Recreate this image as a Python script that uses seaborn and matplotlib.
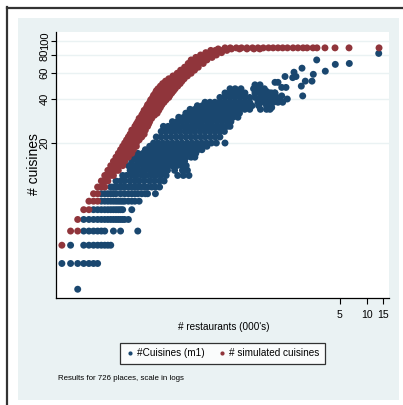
import matplotlib
matplotlib.use("Agg")
import matplotlib.pyplot as plt
from matplotlib import font_manager
from matplotlib.lines import Line2D
from matplotlib.patches import Rectangle
from matplotlib.ticker import NullLocator, FixedLocator
import seaborn as sns
import pandas as pd

# ---------------- data (restaurants as counts, cuisines as counts) ----------------
series_labels = ["#Cuisines (m1)", "# simulated cuisines"]
series_colors = ["#1A476F", "#90353B"]

# observed cuisines: {cuisines: [restaurants, ...]}
blue_rows = {
    2: [6],
    3: [4, 5, 6, 7, 8, 9, 10],
    4: [5, 7, 8, 9, 10, 11, 12, 13, 14],
    5: [7, 8, 9, 10, 11, 12, 15, 18, 28],
    6: [7, 8, 9, 10, 11, 12, 13, 14, 15, 16, 17, 18, 19, 20, 22],
    7: [9, 10, 11, 12, 13, 14, 15, 16, 17, 18, 19, 24],
    8: [11, 12, 13, 14, 15, 16, 17, 18, 19, 20, 22, 24, 26, 29],
    9: [11, 12, 13, 14, 15, 16, 18, 20, 22, 24, 26, 28, 31, 34, 36, 44],
    10: [14, 15, 16, 17, 18, 19, 20, 22, 24, 26, 28, 30, 33, 36, 40, 44, 49],
    11: [16, 18, 20, 23, 26, 29, 33, 38, 43, 49, 55],
    12: [19, 21, 24, 27, 31, 35, 40, 45, 51, 58, 78, 90, 104],
    13: [23, 26, 29, 33, 38, 43, 48, 54, 60, 72, 88, 100],
    14: [22, 25, 28, 32, 36, 41, 46, 52, 59, 67, 76, 86, 97],
    15: [24, 28, 31, 35, 40, 45, 51, 57, 65, 73, 83, 93],
    16: [25, 28, 32, 36, 41, 46, 52, 59, 67, 76, 86, 97, 110, 121],
    17: [28, 32, 36, 41, 46, 52, 58, 66, 75, 85, 96, 109, 124],
    18: [34, 38, 43, 49, 55, 62, 70, 80, 90, 102, 116, 131, 145],
    19: [38, 44, 49, 56, 63, 71, 81, 91, 103, 117, 133, 150, 165],
    20: [42, 47, 53, 60, 68, 77, 87, 99, 112, 127, 144, 163, 185, 210, 262],
    22: [45, 51, 58, 66, 75, 85, 96, 109, 123, 140, 158, 180, 204, 230],
    24: [51, 57, 65, 73, 83, 95, 107, 121, 138, 157, 178, 202, 229, 258],
    26: [54, 61, 69, 78, 89, 101, 114, 130, 147, 167, 190, 215, 244, 277, 298],
    28: [68, 77, 87, 99, 113, 128, 145, 165, 187, 213, 242, 275, 305],
    30: [80, 91, 103, 117, 133, 151, 171, 194, 220, 250, 284, 322, 365],
    32: [96, 109, 124, 140, 160, 181, 205, 233, 265, 301, 342, 380],
    34: [107, 121, 138, 157, 178, 202, 230, 261, 297, 337, 383, 435, 494, 650, 760],
    36: [129, 147, 167, 190, 215, 245, 278, 316, 359, 408, 464, 525, 620, 760],
    38: [157, 178, 202, 230, 261, 297, 337, 383, 435, 494, 610, 700, 800, 910, 1020],
    41: [230, 261, 297, 337, 383, 435, 494, 650, 740, 840, 950, 1070],
    44: [262, 297, 337, 383, 437, 565, 640, 730, 830, 940],
    47: [298, 340, 395, 545, 620, 720],
    50: [565, 643],
}
blue_top_restaurants = [13490, 6346, 4432, 2751, 3430, 1887, 2522, 2054, 2438, 1537,
                        1618, 1487, 1221, 1020, 1854, 1252, 1122, 944, 868, 1122,
                        1921, 1294, 1150, 868, 868, 831, 763, 565, 616, 643,
                        565, 354, 368, 944]
blue_top_cuisines = [82, 70, 69, 74, 62, 65, 59, 53, 53, 61,
                     57, 56, 57, 52, 49, 48, 48, 44, 44, 42,
                     42, 40, 38, 39, 35, 34, 45, 48, 46, 44,
                     41, 46, 44, 52]

# simulated cuisines: {cuisines: [restaurants, ...]}
red_rows = {
    4: [4], 5: [5, 6], 6: [6], 7: [7, 8], 8: [8, 9, 10], 9: [9, 10],
    10: [10, 11, 12], 11: [11, 12, 13], 12: [12, 13, 14, 15],
    13: [13, 15, 16, 17], 14: [14, 15, 17, 19], 15: [15, 17, 18, 20],
    16: [16, 18, 20, 22], 17: [17, 19, 21, 24], 18: [18, 20, 22, 25],
    19: [19, 21, 24, 27], 20: [20, 22, 24, 27], 21: [21, 23, 26, 29],
    22: [22, 25, 28, 31], 23: [23, 26, 29, 33], 24.5: [24, 27, 30, 34],
    26: [26, 29, 32, 36], 27: [27, 30, 33, 37], 28: [28, 31, 34, 38],
    29.5: [29, 32, 36, 40], 31: [31, 34, 38, 43], 32: [32, 36, 40, 46],
    33.5: [33, 37, 42, 48], 35: [35, 39, 44, 50], 36.5: [36, 41, 46, 52],
    38: [38, 42, 48, 55], 39.5: [39, 44, 50, 58], 41: [41, 46, 53, 62],
    42.5: [42, 48, 55, 64], 44: [44, 50, 57, 67], 45.5: [45, 52, 60, 70],
    47: [47, 54, 62, 73], 49: [50, 57, 66, 78], 51: [53, 61, 70, 83],
    53: [57, 65, 75, 87], 55: [62, 70, 80, 92], 57.5: [69, 78, 88, 100],
    60: [77, 87, 98, 110], 63: [84, 95, 107, 120], 66: [93, 104, 117, 132],
    70: [102, 116, 131, 150], 74: [110, 125, 142, 165], 77: [124, 140, 160, 188],
    80: [140, 158, 180, 210], 83: [160, 182, 206, 240], 86: [182, 205, 232, 275],
    88: [220, 260, 310, 380, 460, 550, 640],
    89.5: [262, 300, 350, 400, 460, 530, 610, 700, 800, 900, 1020, 1150, 1300, 1500,
           1700, 1940, 2150, 2500, 2770, 3400, 4400, 6300, 13600],
}

x_ticks = [5, 10, 15]
y_ticks = [20, 40, 60, 80, 100]
x_title = "# restaurants (000's)"
y_title = "# cuisines"
note_text = "Results for 726 places, scale in logs"

# ---------------- build table ----------------
records = []
for c, xs in blue_rows.items():
    for r in xs:
        records.append((r / 1000.0, c, series_labels[0]))
for r, c in zip(blue_top_restaurants, blue_top_cuisines):
    records.append((r / 1000.0, c, series_labels[0]))
for c, xs in red_rows.items():
    for r in xs:
        records.append((r / 1000.0, c, series_labels[1]))
df = pd.DataFrame(records, columns=["restaurants", "cuisines", "series"])

# ---------------- fonts ----------------
names = {f.name for f in font_manager.fontManager.ttflist}
REG = "Liberation Sans" if "Liberation Sans" in names else "DejaVu Sans"
if "Liberation Sans Narrow" in names:
    NAR, k = "Liberation Sans Narrow", 1.0
else:
    NAR, k = REG, 0.84

W, H = 403, 405
def fx(px):
    return px / W
def fy(py):
    return 1 - py / H

fig = plt.figure(figsize=(W / 100, H / 100), dpi=100)
fig.patch.set_facecolor("white")

# graph region panel + frame lines
fig.add_artist(Rectangle((fx(18), fy(400)), (399 - 18) / W, (400 - 18) / H,
                         transform=fig.transFigure, facecolor="#EAF2F3",
                         edgecolor="none", zorder=0))
fig.add_artist(Line2D([fx(7.5), fx(7.5)], [fy(7), 0], transform=fig.transFigure,
                      color="#333333", lw=1.6))
fig.add_artist(Line2D([fx(7), 1], [fy(7.5), fy(7.5)], transform=fig.transFigure,
                      color="#333333", lw=1.6))

ax = fig.add_axes([fx(56), fy(298), (389 - 56) / W, (298 - 32) / H])
ax.set_facecolor("white")
ax.set_xscale("log")
ax.set_yscale("log")

sns.scatterplot(data=df, x="restaurants", y="cuisines", hue="series",
                hue_order=series_labels, palette=series_colors,
                s=25, linewidth=0, alpha=1, legend=False, ax=ax, zorder=3)

ax.set_xlim(0.00344, 17.56)
ax.set_ylim(1.742, 114.9)
ax.xaxis.set_major_locator(FixedLocator(x_ticks))
ax.yaxis.set_major_locator(FixedLocator(y_ticks))
ax.xaxis.set_minor_locator(NullLocator())
ax.yaxis.set_minor_locator(NullLocator())
ax.set_xticklabels([str(t) for t in x_ticks], fontfamily=NAR, fontsize=9 * k)
ax.set_yticklabels([str(t) for t in y_ticks], fontfamily=REG, fontsize=8,
                   rotation=90, va="center")
ax.tick_params(axis="x", length=4.3, width=0.8, pad=4.0, colors="black")
ax.tick_params(axis="y", length=3.5, width=0.8, pad=1.0, colors="black")
ax.set_xlabel("")
ax.set_ylabel("")
ax.yaxis.grid(True, color="#EAF2F3", lw=1.0)
ax.xaxis.grid(False)
ax.set_axisbelow(True)
for s in ["top", "right"]:
    ax.spines[s].set_visible(False)
for s in ["left", "bottom"]:
    ax.spines[s].set_color("black")
    ax.spines[s].set_linewidth(0.9)

fig.text(fx(223.5), fy(327.5), x_title, ha="center", va="center",
         fontfamily=NAR, fontsize=8.6 * k)
fig.text(fx(34), fy(164), y_title, ha="center", va="center", rotation=90,
         fontfamily=REG, fontsize=10)
fig.text(fx(58), fy(378), note_text, ha="left", va="center",
         fontfamily=NAR, fontsize=6.7 * k)

handles = [Line2D([], [], ls="", marker="o", markersize=3.0, markeredgewidth=0,
                  color=c) for c in series_colors]
leg = fig.legend(handles, series_labels, loc="center",
                 bbox_to_anchor=(fx(222.5), fy(353.5)), ncol=2,
                 frameon=True, fancybox=False, edgecolor="black", facecolor="white",
                 prop={"family": NAR, "size": 8.6 * k}, handlelength=0.8,
                 handletextpad=0.3, columnspacing=1.4, borderpad=0.55,
                 borderaxespad=0)
leg.get_frame().set_linewidth(0.9)

fig.savefig("out.png", dpi=100)
